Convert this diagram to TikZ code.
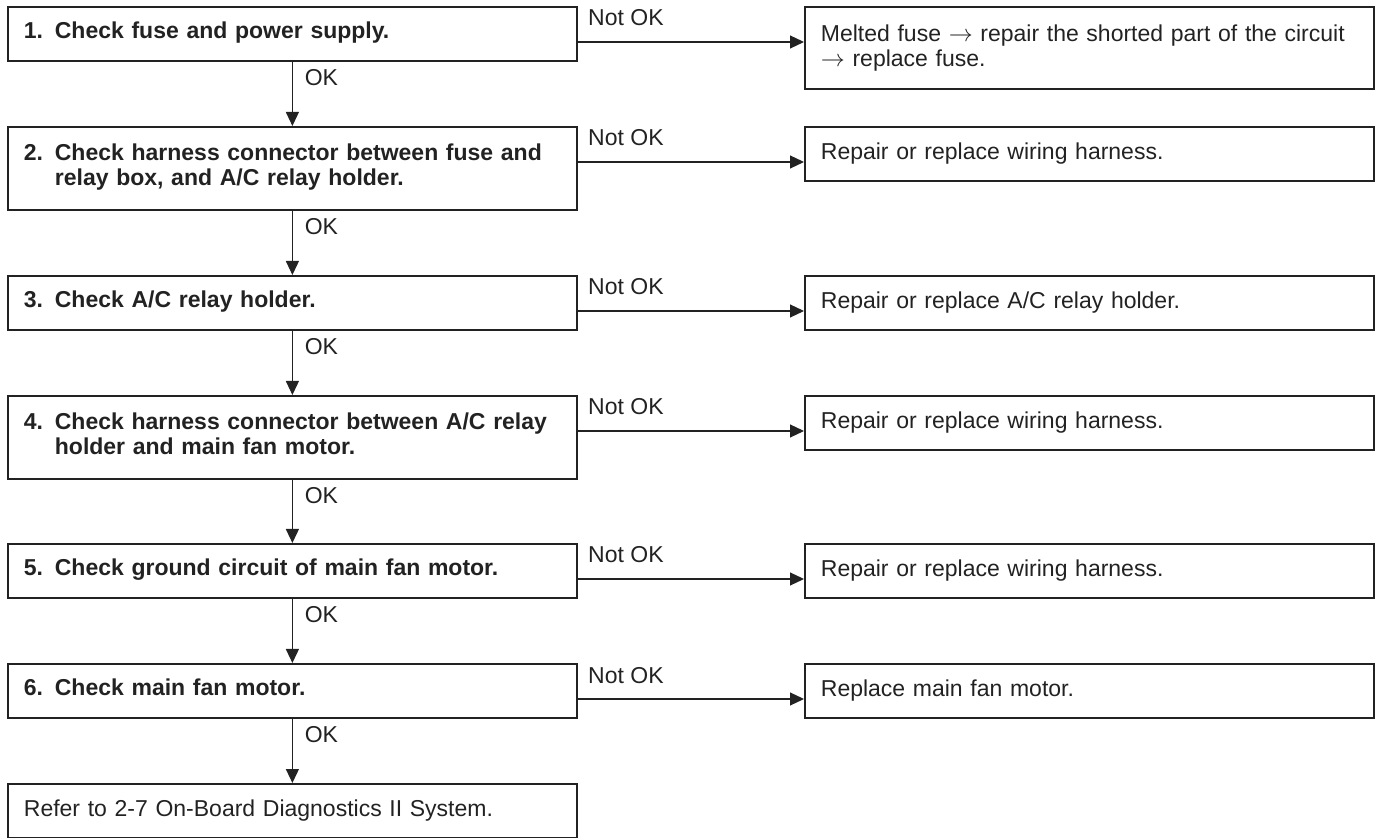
\documentclass[tikz,border=0pt]{standalone}
\usepackage{fontspec}
\setmainfont{Liberation Sans}
\usetikzlibrary{arrows.meta}

\definecolor{inkc}{HTML}{222222}
\newcommand{\stepno}[2]{\makebox[15.5pt][l]{#1.}\begin{tabular}[t]{@{}l@{}}#2\end{tabular}}

\tikzset{
  box/.style={draw=inkc, text=inkc, line width=0.9pt, anchor=north west,
    minimum width=284.5pt, minimum height=27pt, text width=268.5pt,
    inner xsep=8pt, inner ysep=0pt, align=left,
    font=\fontsize{11.5}{12.4}\selectfont},
  stepbox/.style={box, font=\fontsize{11.5}{12.4}\selectfont\bfseries},
  tall/.style={minimum height=41.5pt},
  arr/.style={draw=inkc, line width=0.55pt, -{Triangle[length=7pt,width=6.5pt]}},
  lab/.style={anchor=base west, inner sep=0pt, text=inkc,
    font=\fontsize{11.5}{12.4}\selectfont},
}

\begin{document}
\begin{tikzpicture}[x=1pt,y=1pt]
    \useasboundingbox (0,0) rectangle (687.5,-419);

    % checks
    \node[stepbox] (s1) at (3.5,-3) {\stepno{1}{Check fuse and power supply.}};
    \node[stepbox, tall] (s2) at (3.5,-63) {\stepno{2}{Check harness connector between fuse and\\relay box, and A/C relay holder.}};
    \node[stepbox] (s3) at (3.5,-137.5) {\stepno{3}{Check A/C relay holder.}};
    \node[stepbox, tall] (s4) at (3.5,-197.5) {\stepno{4}{Check harness connector between A/C relay\\holder and main fan motor.}};
    \node[stepbox] (s5) at (3.5,-271.5) {\stepno{5}{Check ground circuit of main fan motor.}};
    \node[stepbox] (s6) at (3.5,-331.5) {\stepno{6}{Check main fan motor.}};
    \node[box] (s7) at (3.5,-391.5) {Refer to 2-7 On-Board Diagnostics II System.};

    % fixes
    \node[box, minimum height=41pt] (f1) at (402,-3) {Melted fuse $\rightarrow$ repair the shorted part of the circuit\\$\rightarrow$ replace fuse.};
    \node[box] (f2) at (402,-63) {Repair or replace wiring harness.};
    \node[box] (f3) at (402,-137.5) {Repair or replace A/C relay holder.};
    \node[box] (f4) at (402,-197.5) {Repair or replace wiring harness.};
    \node[box] (f5) at (402,-271.5) {Repair or replace wiring harness.};
    \node[box] (f6) at (402,-331.5) {Replace main fan motor.};

    \foreach \i/\j in {1/2,2/3,3/4,4/5,5/6,6/7} {
        \draw[arr] (s\i.south) -- (s\j.north);
        \node[lab] (ok\i) at ([xshift=6pt,yshift=-12pt]s\i.south) {OK};
    }

    \foreach \i in {1,...,6} {
        \coordinate (n\i) at ([yshift=-18pt]s\i.north east);
        \draw[arr] (n\i) -- (n\i -| f\i.west);
        \node[lab] (nok\i) at ([xshift=5pt,yshift=8pt]n\i) {Not OK};
    }
\end{tikzpicture}
\end{document}
